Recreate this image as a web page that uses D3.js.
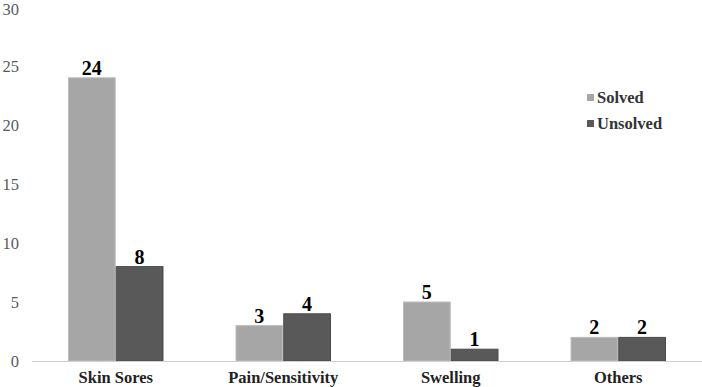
<!DOCTYPE html>
<html><head><meta charset="utf-8">
<script src="https://cdn.jsdelivr.net/npm/d3@7"></script>
<style>body{margin:0;background:#fff}svg{display:block}svg text{font-family:'Liberation Serif','Times New Roman',serif}</style>
</head><body>
<script>
const categories = ["Skin Sores", "Pain/Sensitivity", "Swelling", "Others"];
const seriesNames = ["Solved", "Unsolved"];
const solved = [24, 3, 5, 2];
const unsolved = [8, 4, 1, 2];
const yTicks = [0, 5, 10, 15, 20, 25, 30];
const colors = ["#a6a6a6", "#595959"];
const strokes = ["#bdbdbd", "#4a4a4a"];

const W = 702, H = 387;
const svg = d3.select("body").append("svg").attr("width", W).attr("height", H);
const m = {left: 32, right: 0, top: 7, bottom: 26};
const x0 = d3.scaleBand().domain(categories).range([m.left, W - m.right]).paddingInner(0.43).paddingOuter(0.215);
const x1 = d3.scaleBand().domain(seriesNames).range([0, x0.bandwidth()]);
const y = d3.scaleLinear().domain([0, 30]).range([H - m.bottom, m.top]);

// y tick labels (baseline kept inside the picture for the top tick)
svg.append("g").selectAll("text").data(yTicks).join("text")
  .attr("x", 19).attr("y", d => Math.max(y(d) + 5.8, 15))
  .attr("text-anchor", "end").style("font-size", "16.5px")
  .attr("fill", "#595959").text(d => d);

const data = categories.map((c, i) => ({c, vals: [solved[i], unsolved[i]]}));
const g = svg.append("g").selectAll("g").data(data).join("g")
  .attr("transform", d => `translate(${x0(d.c)},0)`);
g.selectAll("rect").data(d => d.vals.map((v, j) => ({v, j}))).join("rect")
  .attr("x", d => x1(seriesNames[d.j]) + 0.5).attr("width", x1.bandwidth() - 1)
  .attr("y", d => y(d.v)).attr("height", d => y(0) - y(d.v))
  .attr("fill", d => colors[d.j]).attr("stroke", d => strokes[d.j]).attr("stroke-width", 1);
g.selectAll("text").data(d => d.vals.map((v, j) => ({v, j}))).join("text")
  .attr("x", d => x1(seriesNames[d.j]) + x1.bandwidth() / 2).attr("y", d => y(d.v) - 3)
  .attr("text-anchor", "middle").style("font-weight", "bold")
  .style("font-size", "20px").attr("fill", "#000").text(d => d.v);

// baseline
svg.append("line").attr("x1", m.left).attr("x2", W).attr("y1", y(0) + 0.5).attr("y2", y(0) + 0.5)
  .attr("stroke", "#d0d0d0").attr("stroke-width", 1);

// x axis labels
svg.append("g").selectAll("text").data(categories).join("text")
  .attr("x", d => x0(d) + x0.bandwidth() / 2).attr("y", 383)
  .attr("text-anchor", "middle").style("font-weight", "bold")
  .style("font-size", "16.5px").attr("fill", "#222").text(d => d);

// legend
const lg = svg.append("g").selectAll("g").data(seriesNames).join("g")
  .attr("transform", (d, i) => `translate(587,${97 + i * 26})`);
lg.append("rect").attr("x", 0).attr("y", -3).attr("width", 7).attr("height", 7)
  .attr("fill", (d, i) => colors[i]);
lg.append("text").attr("x", 10).attr("y", 0).attr("dy", "0.35em")
  .style("font-weight", "bold").style("font-size", "16.5px")
  .attr("fill", "#333").text(d => d);
</script>
</body></html>
